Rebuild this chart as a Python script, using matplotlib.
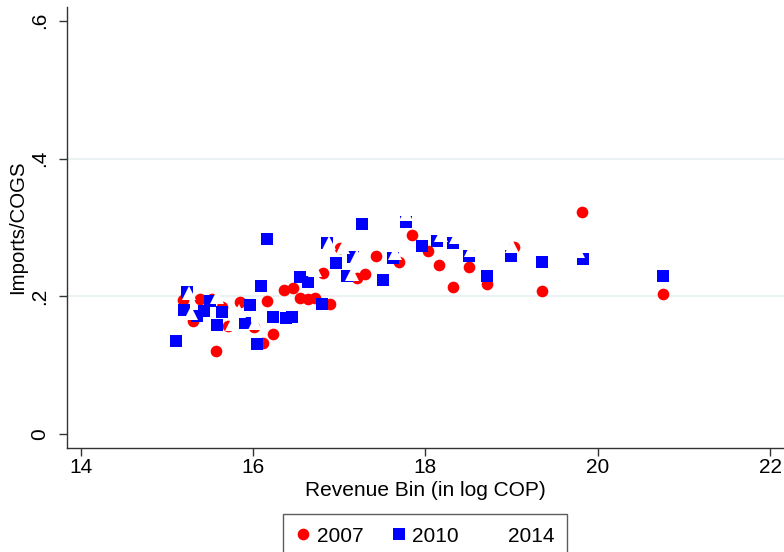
import matplotlib
matplotlib.use("Agg")
import matplotlib.pyplot as plt

plt.rcParams['font.family'] = ['Liberation Sans', 'DejaVu Sans']

# 2007 (red circles)
x2007 = [15.187, 15.385, 15.303, 15.524, 15.570, 15.640, 15.710, 15.849, 16.012, 16.116,
         16.163, 16.232, 16.360, 16.464, 16.545, 16.638, 16.719, 16.812, 16.893, 17.009,
         17.207, 17.300, 17.428, 17.694, 17.845, 18.031, 18.158, 18.321, 18.507, 18.716,
         19.029, 19.354, 19.819, 20.759]
y2007 = [0.195, 0.196, 0.164, 0.197, 0.121, 0.185, 0.157, 0.192, 0.155, 0.132,
         0.193, 0.145, 0.209, 0.212, 0.198, 0.196, 0.198, 0.234, 0.189, 0.270,
         0.227, 0.233, 0.258, 0.250, 0.289, 0.266, 0.246, 0.213, 0.242, 0.218,
         0.271, 0.208, 0.323, 0.204]

# 2010 (blue squares)
x2010 = [15.106, 15.236, 15.199, 15.352, 15.433, 15.501, 15.582, 15.640, 15.907, 15.965,
         16.047, 16.093, 16.163, 16.232, 16.383, 16.453, 16.545, 16.638, 16.801, 16.859,
         16.963, 17.091, 17.161, 17.265, 17.509, 17.625, 17.776, 17.962, 18.136, 18.321,
         18.507, 18.716, 18.995, 19.354, 19.830, 20.759]
y2010 = [0.135, 0.207, 0.180, 0.172, 0.179, 0.194, 0.159, 0.178, 0.162, 0.188,
         0.131, 0.215, 0.284, 0.170, 0.169, 0.170, 0.228, 0.221, 0.189, 0.277,
         0.249, 0.229, 0.257, 0.305, 0.224, 0.256, 0.308, 0.273, 0.280, 0.277,
         0.258, 0.230, 0.259, 0.250, 0.255, 0.230]

# 2014 (white triangles)
x2014 = [15.259, 15.282, 15.583, 15.838, 15.756, 16.023, 16.719, 16.882, 17.044, 17.149,
         17.207, 17.648, 17.776, 18.182, 18.356, 18.530, 19.006, 19.772]
y2014 = [0.205, 0.176, 0.199, 0.179, 0.160, 0.161, 0.238, 0.277, 0.272, 0.233,
         0.258, 0.263, 0.319, 0.289, 0.286, 0.267, 0.273, 0.266]

xticks = [14, 16, 18, 20, 22]
yticks = [0, 0.2, 0.4, 0.6]
ytick_labels = ['0', '.2', '.4', '.6']
grid_y = [0.2, 0.4]

fig = plt.figure(figsize=(7.84, 5.52), dpi=100)
ax = fig.add_axes([67.3/784, 1-447.7/552, 1-67.3/784, (447.7-7.3)/552])

for g in grid_y:
    ax.axhline(g, color='#eaf2f3', lw=1.5, zorder=0)

ms = 8.4
ax.plot(x2007, y2007, 'o', color='#ff0000', ms=ms, mew=0, label='2007', zorder=3)
ax.plot(x2010, y2010, 's', color='#0000ff', ms=ms, mew=0, label='2010', zorder=3)
ax.plot(x2014, y2014, '^', color='white', ms=ms*1.15, mew=0, label='2014', zorder=3)

ax.set_xlim(13.844, 22.162)
ax.set_ylim(-0.0194, 0.6194)
ax.set_xticks(xticks)
ax.set_xticklabels([str(t) for t in xticks])
ax.set_yticks(yticks)
ax.set_yticklabels(ytick_labels, rotation=90, va='center')

for s in ['top', 'right']:
    ax.spines[s].set_visible(False)
for s in ['left', 'bottom']:
    ax.spines[s].set_color('#333333')
    ax.spines[s].set_linewidth(1.0)

ax.tick_params(axis='both', colors='#333333', labelcolor='black', labelsize=15,
               length=5.5, width=1.0, direction='out')
ax.tick_params(axis='x', pad=2)
ax.tick_params(axis='y', pad=7.8)

ax.set_xlabel('Revenue Bin (in log COP)', fontsize=15, labelpad=3)
ax.set_ylabel('Imports/COGS', fontsize=14.7, labelpad=2)

leg = fig.legend(loc='upper center', bbox_to_anchor=(425/784, 1-514/552), ncol=3,
                 frameon=True, fancybox=False, edgecolor='#333333', fontsize=15,
                 handlelength=0.7, handletextpad=0.3, columnspacing=1.35,
                 borderpad=0.6, borderaxespad=0)
leg.get_frame().set_linewidth(1.0)

fig.savefig('out.png', dpi=100)
